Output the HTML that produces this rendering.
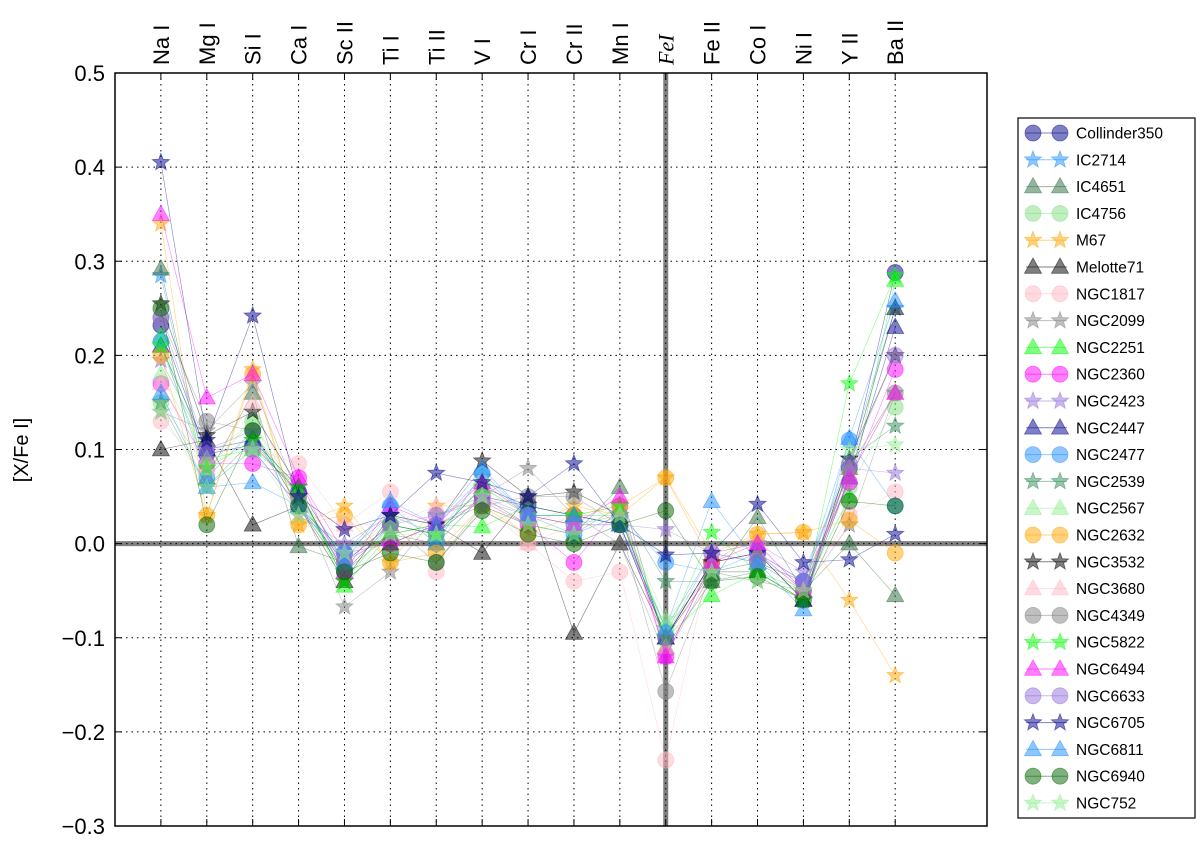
<!DOCTYPE html>
<html><head><meta charset="utf-8"><style>
body{margin:0;background:#fff;}
svg{display:block;font-family:"Liberation Sans",sans-serif;}
</style></head><body>
<svg id="chart" width="1200" height="843" viewBox="0 0 1200 843" xmlns="http://www.w3.org/2000/svg"></svg>
<script>
const elements=["Na I","Mg I","Si I","Ca I","Sc II","Ti I","Ti II","V I","Cr I","Cr II","Mn I","FeI","Fe II","Co I","Ni I","Y II","Ba II"];
const yTicks=[0.5,0.4,0.3,0.2,0.1,0.0,-0.1,-0.2,-0.3];
const yTickLabels=["0.5","0.4","0.3","0.2","0.1","0.0","\u22120.1","\u22120.2","\u22120.3"];
const clusterNames=["Collinder350","IC2714","IC4651","IC4756","M67","Melotte71","NGC1817","NGC2099","NGC2251","NGC2360","NGC2423","NGC2447","NGC2477","NGC2539","NGC2567","NGC2632","NGC3532","NGC3680","NGC4349","NGC5822","NGC6494","NGC6633","NGC6705","NGC6811","NGC6940","NGC752"];
const collinder350=[0.232,0.095,0.105,0.055,-0.03,0.02,0.01,0.05,0.04,0.03,0.02,-0.10,-0.02,-0.01,-0.05,0.08,0.288];
const ic2714=[0.285,0.06,0.10,0.04,-0.01,0.03,0.02,0.07,0.03,0.03,0.02,-0.09,-0.01,-0.02,-0.04,0.09,0.25];
const ic4651=[0.292,0.07,0.16,-0.003,-0.02,0.01,0.0,0.05,0.02,0.01,0.06,-0.11,-0.04,0.028,-0.05,0.0,-0.055];
const ic4756=[0.15,0.08,0.13,0.05,-0.01,0.02,0.01,0.06,0.03,0.02,0.03,-0.09,-0.03,-0.02,-0.04,0.06,0.145];
const m67=[0.34,0.03,0.185,0.02,0.04,-0.02,0.04,0.04,0.02,0.04,0.03,0.07,-0.01,0.01,0.012,-0.06,-0.14];
const melotte71=[0.10,0.11,0.02,0.04,-0.04,0.0,0.02,-0.01,0.05,-0.095,0.0,-0.10,-0.03,-0.03,-0.06,0.08,0.25];
const ngc1817=[0.13,0.08,0.10,0.085,0.02,0.055,-0.03,0.04,0.0,-0.04,-0.03,-0.23,-0.01,0.0,-0.05,0.03,0.055];
const ngc2099=[0.14,0.12,0.17,0.05,-0.067,-0.03,0.03,0.05,0.08,0.03,0.0,-0.12,-0.03,-0.04,-0.05,0.02,0.16];
const ngc2251=[0.22,0.09,0.10,0.06,-0.045,0.01,0.02,0.018,0.04,0.03,0.03,-0.10,-0.055,-0.03,-0.05,0.05,0.28];
const ngc2360=[0.17,0.085,0.085,0.07,-0.01,0.0,0.02,0.045,0.02,-0.02,0.04,-0.12,-0.02,-0.01,-0.04,0.065,0.185];
const ngc2423=[0.195,0.10,0.12,0.03,0.0,0.03,0.01,0.05,0.03,0.02,0.02,0.015,-0.01,0.0,-0.03,0.08,0.075];
const ngc2447=[0.21,0.10,0.11,0.06,-0.02,0.02,0.01,0.06,0.04,0.03,0.02,-0.10,-0.02,-0.01,-0.06,0.07,0.23];
const ngc2477=[0.215,0.07,0.12,0.04,-0.01,0.04,0.0,0.075,0.03,0.01,0.03,-0.02,-0.03,-0.01,-0.04,0.11,0.04];
const ngc2539=[0.15,0.06,0.11,0.05,-0.03,0.01,0.02,0.04,0.02,0.01,0.04,-0.04,-0.04,-0.03,-0.06,0.09,0.125];
const ngc2567=[0.18,0.09,0.13,0.04,-0.02,0.03,0.01,0.07,0.03,0.02,0.03,-0.09,-0.03,-0.02,-0.05,0.07,0.16];
const ngc2632=[0.20,0.03,0.18,0.02,0.03,-0.02,-0.01,0.04,0.01,0.03,0.04,0.07,-0.02,0.01,0.012,0.025,-0.01];
const ngc3532=[0.255,0.115,0.14,0.06,-0.04,0.03,0.02,0.088,0.05,0.055,0.03,-0.10,-0.02,-0.01,-0.06,0.09,0.20];
const ngc3680=[0.17,0.08,0.15,0.04,0.02,0.02,0.04,0.06,0.0,0.02,0.03,-0.11,-0.02,-0.01,-0.05,0.08,0.16];
const ngc4349=[0.24,0.13,0.12,0.05,-0.02,0.02,-0.02,0.04,0.05,0.05,0.02,-0.157,-0.03,-0.02,-0.05,0.08,0.16];
const ngc5822=[0.21,0.08,0.11,0.06,-0.04,0.02,0.01,0.06,0.03,0.03,0.04,-0.10,0.012,-0.03,-0.06,0.17,0.285];
const ngc6494=[0.35,0.155,0.18,0.07,-0.03,0.04,0.02,0.065,0.03,0.02,0.05,-0.12,-0.02,0.0,-0.05,0.07,0.16];
const ngc6633=[0.24,0.10,0.10,0.04,-0.02,0.02,0.03,0.045,0.03,0.02,0.02,-0.10,-0.01,-0.02,-0.04,0.085,0.20];
const ngc6705=[0.405,0.11,0.242,0.05,0.015,0.03,0.075,0.065,0.05,0.085,0.02,-0.012,-0.01,0.042,-0.02,-0.017,0.01];
const ngc6811=[0.16,0.06,0.065,0.04,-0.02,0.045,0.02,0.08,0.03,0.03,0.02,-0.09,0.045,-0.02,-0.07,0.112,0.258];
const ngc6940=[0.25,0.02,0.12,0.04,-0.03,-0.01,-0.02,0.035,0.01,0.0,0.02,0.035,-0.04,-0.035,-0.06,0.045,0.04];
const ngc752=[0.14,0.06,0.10,0.03,-0.01,0.01,0.01,0.05,0.02,0.01,0.03,-0.08,-0.03,-0.04,-0.05,0.10,0.105];
const seriesValues=[collinder350,ic2714,ic4651,ic4756,m67,melotte71,ngc1817,ngc2099,ngc2251,ngc2360,ngc2423,ngc2447,ngc2477,ngc2539,ngc2567,ngc2632,ngc3532,ngc3680,ngc4349,ngc5822,ngc6494,ngc6633,ngc6705,ngc6811,ngc6940,ngc752];

const colors=["#00008b","#1e90ff","#2e6b3e","#7fe07f","#ffa500","#000000","#ffb6c1","#808080","#00ff00","#ff00ff","#9370db","#00008b","#1e90ff","#2e8b57","#90ee90","#ffa500","#000000","#ffb6c1","#808080","#00ff00","#ff00ff","#9370db","#00008b","#1e90ff","#006400","#90ee90"];
const markers=["o","*","^","o","*","^","o","*","^","o","*","^","o","*","^","o","*","^","o","*","^","o","*","^","o","*"];

const L=115,R=987,T=73,B=826;
const x=i=>L+(i+1)*(R-L)/19;
const y=v=>T+(0.5-v)*(B-T)/0.8;
const svg=document.getElementById('chart');
const NS="http://www.w3.org/2000/svg";
function mk(tag,attrs,parent){const e=document.createElementNS(NS,tag);for(const k in attrs)e.setAttribute(k,attrs[k]);(parent||svg).appendChild(e);return e;}
function marker(m,cx,cy,col,parent){
  let e;
  if(m==="o"){e=mk('circle',{cx:cx,cy:cy,r:8},parent);}
  else if(m==="^"){const r=9;e=mk('polygon',{points:`${cx},${cy-r} ${cx+r*0.95},${cy+r*0.7} ${cx-r*0.95},${cy+r*0.7}`},parent);}
  else{let p=[];for(let k=0;k<10;k++){const rr=k%2?3.8:9;const a=-Math.PI/2+k*Math.PI/5;p.push((cx+rr*Math.cos(a)).toFixed(1)+","+(cy+rr*Math.sin(a)).toFixed(1));}e=mk('polygon',{points:p.join(" ")},parent);}
  e.setAttribute('fill',col);e.setAttribute('fill-opacity','0.5');e.setAttribute('stroke',col);e.setAttribute('stroke-opacity','0.5');e.setAttribute('stroke-width','0.8');
  return e;
}
// grid
const grid=mk('g',{});


elements.forEach((el,i)=>{mk('line',{x1:x(i),x2:x(i),y1:T,y2:B,stroke:'#000','stroke-width':1,'stroke-dasharray':'1.5,4'},grid);});
yTicks.forEach(v=>{mk('line',{x1:L,x2:R,y1:y(v),y2:y(v),stroke:'#000','stroke-width':1,'stroke-dasharray':'1.5,4'},grid);});
// reference lines
const hz=mk('line',{x1:L,x2:R,y1:y(0),y2:y(0),stroke:'#000','stroke-opacity':0.5,'stroke-width':5});


const vt=mk('line',{x1:x(11),x2:x(11),y1:T,y2:B,stroke:'#000','stroke-opacity':0.5,'stroke-width':5});


// series
seriesValues.forEach((vals,s)=>{
  const g=mk('g',{});
  
  
  const pts=vals.map((v,i)=>x(i)+","+y(v)).join(" ");
  mk('polyline',{points:pts,fill:'none',stroke:colors[s],'stroke-opacity':0.5,'stroke-width':0.6},g);
  vals.forEach((v,i)=>{const m=marker(markers[s],x(i),y(v),colors[s],g);
    
    });
});
// axes frame
const frame=mk('rect',{x:L,y:T,width:R-L,height:B-T,fill:'none',stroke:'#000','stroke-width':1.5});


// y ticks
yTicks.forEach((v,i)=>{
  mk('line',{x1:L,x2:L+7,y1:y(v),y2:y(v),stroke:'#000','stroke-width':1});
  mk('line',{x1:R,x2:R-7,y1:y(v),y2:y(v),stroke:'#000','stroke-width':1});
  const t=mk('text',{x:L-10,y:y(v)+8,'text-anchor':'end','font-size':22});
  t.textContent=yTickLabels[i];
  
  
});
// x labels (top, rotated)
elements.forEach((el,i)=>{
  mk('line',{x1:x(i),x2:x(i),y1:T,y2:T+7,stroke:'#000','stroke-width':1});
  mk('line',{x1:x(i),x2:x(i),y1:B,y2:B-7,stroke:'#000','stroke-width':1});
  const t=mk('text',{x:0,y:0,'font-size':22,transform:`translate(${x(i)+8},${T-8}) rotate(-90)`});
  if(el==="FeI"){t.setAttribute('font-family','"Liberation Serif",serif');t.setAttribute('font-style','italic');t.textContent="FeI";}
  else t.textContent=el;
  
  
});
const yl=mk('text',{x:0,y:0,'font-size':20,'text-anchor':'middle',transform:`translate(28,450) rotate(-90)`});
yl.textContent="[X/Fe I]";


// legend
const lg=mk('g',{});


mk('rect',{x:1018,y:118,width:177,height:700,fill:'#fff',stroke:'#000','stroke-width':1.2},lg);
clusterNames.forEach((n,s)=>{
  const yy=133+s*26.8;
  const e=mk('g',{},lg);
  
  
  mk('line',{x1:1026,x2:1067,y1:yy,y2:yy,stroke:colors[s],'stroke-opacity':0.5,'stroke-width':1},e);
  marker(markers[s],1033,yy,colors[s],e);
  marker(markers[s],1060,yy,colors[s],e);
  const t=mk('text',{x:1076,y:yy+5.5,'font-size':15.5},e);
  t.textContent=n;
});
</script>
</body></html>
